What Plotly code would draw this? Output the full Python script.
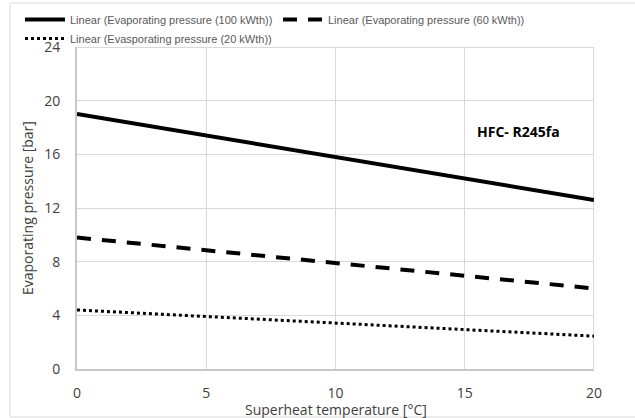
import plotly.graph_objects as go

superheat = [0, 20]
p100 = [19.0, 12.6]
p60 = [9.8, 6.0]
p20 = [4.4, 2.45]
names = ["Linear (Evaporating pressure (100 kWth))",
         "Linear (Evaporating pressure (60 kWth))",
         "Linear (Evasporating pressure (20 kWth))"]
x_ticks = [0, 5, 10, 15, 20]
y_ticks = [0, 4, 8, 12, 16, 20, 24]

FONT = "Open Sans, sans-serif"
LFONT = "Liberation Sans, Arial, sans-serif"

fig = go.Figure()
fig.add_trace(go.Scatter(x=superheat, y=p100, mode="lines", name=names[0], legend="legend",
                         line=dict(color="black", width=4, dash="solid")))
fig.add_trace(go.Scatter(x=superheat, y=p60, mode="lines", name=names[1], legend="legend2",
                         line=dict(color="black", width=4, dash="14px,11px")))
fig.add_trace(go.Scatter(x=superheat, y=p20, mode="lines", name=names[2], legend="legend",
                         line=dict(color="black", width=3, dash="dot")))

L, R, T, B = 77, 594, 47, 369
W, H = 635, 418
pw, ph = R - L, B - T

def px(xp):
    return (xp - L) / pw

def py(yp):
    return (B - yp) / ph

legfont = dict(size=11, color="#595959", family=LFONT)
fig.update_layout(
    width=W, height=H,
    margin=dict(l=L, r=W - R, t=T, b=H - B, pad=0, autoexpand=False),
    plot_bgcolor="white", paper_bgcolor="white",
    font=dict(family=FONT, color="#404040", size=13),
    showlegend=True,
    legend=dict(orientation="v", xref="container", yref="container",
                x=20 / W, y=1 - 5 / H, xanchor="left", yanchor="top",
                font=legfont, tracegroupgap=0, itemwidth=40, bgcolor="rgba(0,0,0,0)"),
    legend2=dict(orientation="v", xref="container", yref="container",
                 x=278 / W, y=1 - 5 / H, xanchor="left", yanchor="top",
                 font=legfont, itemwidth=40, bgcolor="rgba(0,0,0,0)"),
    xaxis=dict(range=[0, 20], tickvals=x_ticks, showgrid=True, gridcolor="#d9d9d9",
               gridwidth=1, showline=True, linecolor="#c8c8c8", linewidth=2,
               zeroline=False, ticks="", tickfont=dict(size=14, color="#404040"),
               ticklabelstandoff=10),
    yaxis=dict(range=[0, 24], tickvals=y_ticks, showgrid=True, gridcolor="#d9d9d9",
               gridwidth=1, showline=True, linecolor="#c8c8c8", linewidth=2,
               zeroline=False, ticks="", tickfont=dict(size=14, color="#404040"),
               ticklabelstandoff=12),
)

# axis titles
fig.add_annotation(x=0.5, y=py(409), xref="paper", yref="paper",
                   text="Superheat temperature [°C]", showarrow=False,
                   xanchor="center", yanchor="middle",
                   font=dict(size=14, color="#404040", family=FONT))
fig.add_annotation(x=px(27), y=py(208), xref="paper", yref="paper",
                   text="Evaporating pressure [bar]", showarrow=False, textangle=-90,
                   xanchor="center", yanchor="middle",
                   font=dict(size=14, color="#404040", family=FONT))

fig.add_shape(type="line", xref="x", yref="y", x0=0, x1=20, y0=24, y1=24,
              line=dict(color="#d9d9d9", width=2), layer="below")
fig.add_shape(type="line", xref="x", yref="y", x0=20, x1=20, y0=0, y1=24,
              line=dict(color="#d9d9d9", width=2), layer="below")

# chart border
fig.add_shape(type="rect", xref="paper", yref="paper",
              x0=px(10), x1=px(640), y0=py(417), y1=py(3),
              line=dict(color="#d9d9d9", width=1), fillcolor="rgba(0,0,0,0)")

fig.add_annotation(x=15.4, y=17.7, xref="x", yref="y", text="<b>HFC- R245fa</b>",
                   showarrow=False, xanchor="left", yanchor="middle",
                   font=dict(size=14, color="black", family=FONT))

fig.write_html("out.html")
